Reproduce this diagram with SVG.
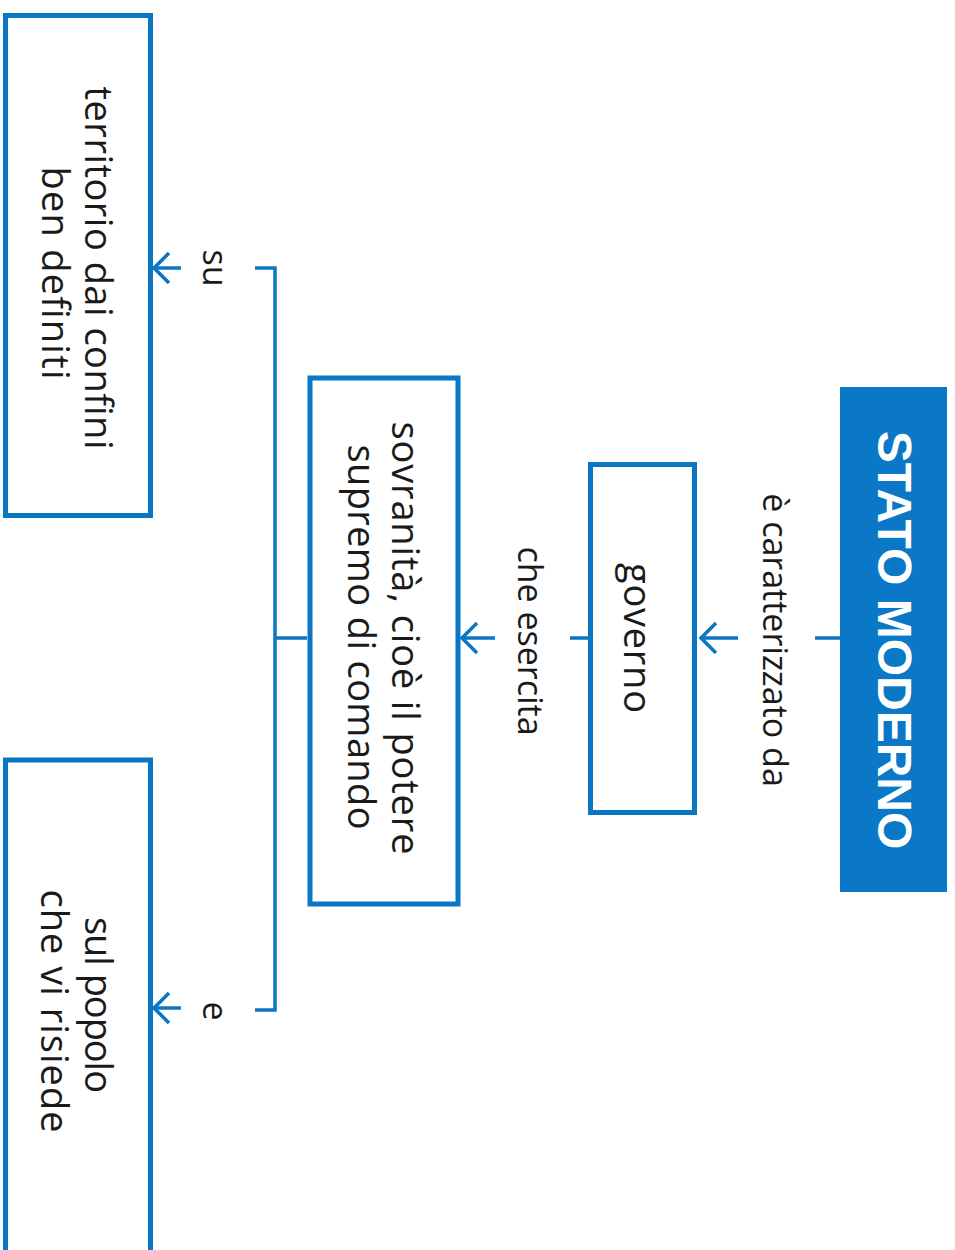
<svg xmlns="http://www.w3.org/2000/svg" width="955" height="1250" viewBox="0 0 955 1250">
<style>
.box{fill:#fff;stroke:#0b77c4;stroke-width:5}
.t{font-family:"Open Sans","Liberation Sans",sans-serif;fill:#1a1a1a;text-anchor:middle}
.lbl{font-size:34px}
.nd{font-size:38px}
.ln{fill:none;stroke:#0b77c4;stroke-width:3.5}
.ah{fill:none;stroke:#0b77c4;stroke-width:3.5;stroke-linecap:butt;stroke-linejoin:miter}
</style>
<rect width="955" height="1250" fill="#fff"/>
<g id="connectors">
<line class="ln" x1="815" y1="638" x2="840" y2="638"/>
<line class="ln" x1="738" y1="638" x2="700" y2="638"/>
<polyline class="ah" points="716,623 701,638 716,653"/>
<line class="ln" x1="570" y1="638" x2="590" y2="638"/>
<line class="ln" x1="495" y1="638" x2="461" y2="638"/>
<polyline class="ah" points="477,623 462,638 477,653"/>
<line class="ln" x1="307" y1="638" x2="275" y2="638"/>
<polyline class="ln" points="255,268 275,268 275,1010 255,1010"/>
<line class="ln" x1="181" y1="268" x2="153" y2="268"/>
<polyline class="ah" points="169,253 154,268 169,283"/>
<line class="ln" x1="181" y1="1008" x2="153" y2="1008"/>
<polyline class="ah" points="169,993 154,1008 169,1023"/>
<text class="t lbl" transform="translate(763,640) rotate(90)">è caratterizzato da</text>
<text class="t lbl" transform="translate(518,641) rotate(90)">che esercita</text>
<text class="t lbl" transform="translate(203,268) rotate(90)">su</text>
<text class="t lbl" transform="translate(203,1011) rotate(90)">e</text>
</g>
<g id="stato">
<rect x="840" y="387" width="107" height="505" fill="#0a78c6"/>
<text transform="translate(878,640) rotate(90)" text-anchor="middle" font-family="'Liberation Sans',Arial,sans-serif" font-weight="bold" font-size="48" fill="#fff">STATO MODERNO</text>
</g>
<g id="governo">
<rect class="box" x="590.5" y="464.5" width="104" height="348"/>
<text class="t nd" transform="translate(624,638) rotate(90)" textLength="150" lengthAdjust="spacing">governo</text>
</g>
<g id="sovranita">
<rect class="box" x="310" y="378" width="148" height="526"/>
<text class="t nd" transform="translate(392,638) rotate(90)" textLength="433" lengthAdjust="spacing">sovranità, cioè il potere</text>
<text class="t nd" transform="translate(348,637) rotate(90)" textLength="385" lengthAdjust="spacing">supremo di comando</text>
</g>
<g id="territorio">
<rect class="box" x="5.5" y="15.5" width="145" height="500"/>
<text class="t nd" transform="translate(85,268) rotate(90)" textLength="363" lengthAdjust="spacing">territorio dai confini</text>
<text class="t nd" transform="translate(42,273) rotate(90)" textLength="213" lengthAdjust="spacing">ben definiti</text>
</g>
<g id="popolo">
<rect class="box" x="5.5" y="760" width="145" height="520"/>
<text class="t nd" transform="translate(85,1005) rotate(90)" textLength="176" lengthAdjust="spacing">sul popolo</text>
<text class="t nd" transform="translate(41,1011) rotate(90)" textLength="243" lengthAdjust="spacing">che vi risiede</text>
</g>
</svg>
